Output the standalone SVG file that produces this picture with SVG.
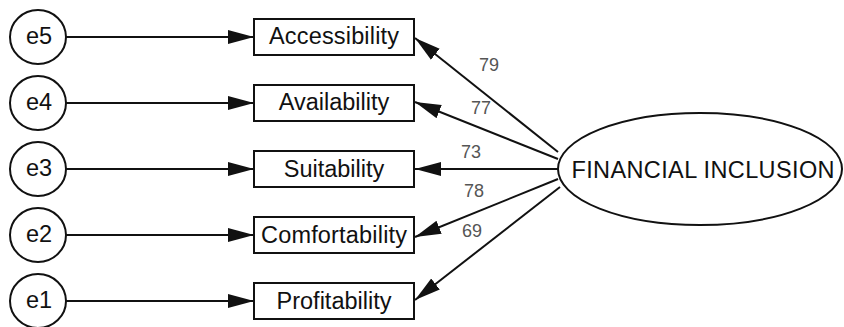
<svg xmlns="http://www.w3.org/2000/svg" width="844" height="327" viewBox="0 0 844 327">
<style>
.n{fill:#fff;stroke:#111;stroke-width:2}
.t{font-family:"Liberation Sans",Arial,sans-serif;font-size:23.5px;fill:#111;text-anchor:middle}
.c{stroke:#111;stroke-width:2;fill:none;marker-end:url(#ah)}
.w{font-family:"Liberation Sans",Arial,sans-serif;font-size:18px;fill:#555;text-anchor:middle}
</style>
<defs>
<marker id="ah" markerUnits="userSpaceOnUse" markerWidth="27" markerHeight="16" refX="26" refY="8" orient="auto">
<path d="M0,1 L26,8 L0,15 Z" fill="#111"/>
</marker>
</defs>
<rect width="844" height="327" fill="#fff"/>
<g id="connectors">
<line class="c" x1="66" y1="37" x2="254" y2="37"/>
<line class="c" x1="66" y1="103" x2="254" y2="103"/>
<line class="c" x1="66" y1="169" x2="254" y2="169"/>
<line class="c" x1="66" y1="235" x2="254" y2="235"/>
<line class="c" x1="66" y1="301" x2="254" y2="301"/>
<line class="c" x1="558" y1="152" x2="415" y2="38"/>
<line class="c" x1="558" y1="159" x2="415" y2="102"/>
<line class="c" x1="558" y1="169" x2="415" y2="169"/>
<line class="c" x1="558" y1="179" x2="415" y2="237"/>
<line class="c" x1="560" y1="187" x2="415" y2="300"/>
<text class="w" x="489" y="71">79</text>
<text class="w" x="481" y="114">77</text>
<text class="w" x="471" y="158">73</text>
<text class="w" x="474" y="197">78</text>
<text class="w" x="472" y="237">69</text>
</g>
<g id="e5"><ellipse class="n" cx="38" cy="37" rx="28" ry="27"/><text class="t" x="39" y="44">e5</text></g>
<g id="e4"><ellipse class="n" cx="38" cy="103" rx="28" ry="27"/><text class="t" x="39" y="110">e4</text></g>
<g id="e3"><ellipse class="n" cx="38" cy="169" rx="28" ry="27"/><text class="t" x="39" y="176">e3</text></g>
<g id="e2"><ellipse class="n" cx="38" cy="235" rx="28" ry="27"/><text class="t" x="39" y="242">e2</text></g>
<g id="e1"><ellipse class="n" cx="38" cy="301" rx="28" ry="27"/><text class="t" x="39" y="308">e1</text></g>
<g id="accessibility"><rect class="n" x="254" y="19" width="160" height="36"/><text class="t" x="334" y="44" textLength="130">Accessibility</text></g>
<g id="availability"><rect class="n" x="254" y="85" width="160" height="36"/><text class="t" x="334" y="110">Availability</text></g>
<g id="suitability"><rect class="n" x="254" y="151" width="160" height="36"/><text class="t" x="334" y="177">Suitability</text></g>
<g id="comfortability"><rect class="n" x="254" y="217" width="160" height="36"/><text class="t" x="334" y="243" textLength="146">Comfortability</text></g>
<g id="profitability"><rect class="n" x="254" y="283" width="160" height="36"/><text class="t" x="334" y="309">Profitability</text></g>
<g id="financial_inclusion"><ellipse class="n" cx="700" cy="169" rx="142" ry="56"/><text class="t" x="703" y="178" textLength="263">FINANCIAL INCLUSION</text></g>
</svg>
